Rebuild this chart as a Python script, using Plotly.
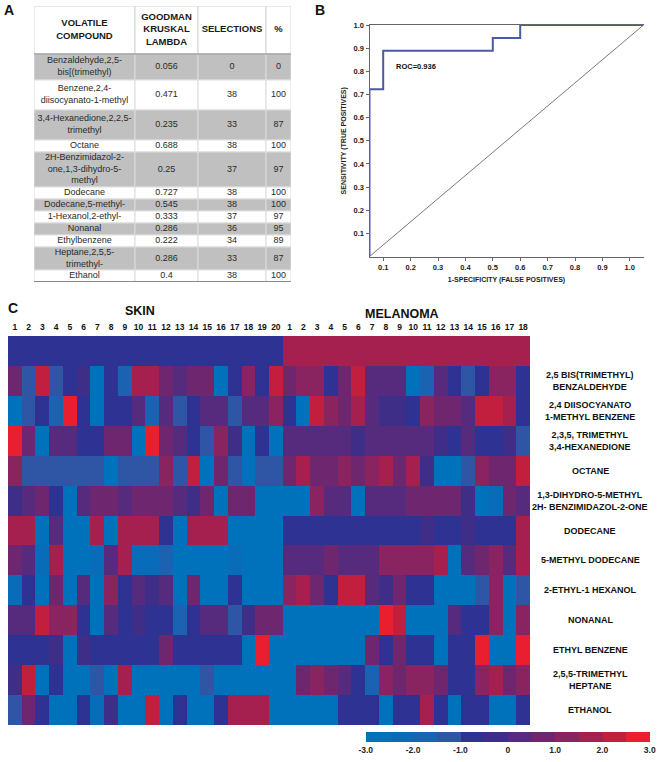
import plotly.graph_objects as go

FONT = "Liberation Sans, Arial, sans-serif"
W, H = 662, 762

# ---------------- Panel A : table ----------------
table_header = ["<b>VOLATILE<br>COMPOUND</b>", "<b>GOODMAN<br>KRUSKAL<br>LAMBDA</b>", "<b>SELECTIONS</b>", "<b>%</b>"]
compounds_table = [
    "Benzaldehyde,2,5-<br>bis[(trimethyl)",
    "Benzene,2,4-<br>diisocyanato-1-methyl",
    "3,4-Hexanedione,2,2,5-<br>trimethyl",
    "Octane",
    "2H-Benzimidazol-2-<br>one,1,3-dihydro-5-<br>methyl",
    "Dodecane",
    "Dodecane,5-methyl-",
    "1-Hexanol,2-ethyl-",
    "Nonanal",
    "Ethylbenzene",
    "Heptane,2,5,5-<br>trimethyl-",
    "Ethanol",
]
lambda_vals = ["0.056", "0.471", "0.235", "0.688", "0.25", "0.727", "0.545", "0.333", "0.286", "0.222", "0.286", "0.4"]
selections = [0, 38, 33, 38, 37, 38, 38, 37, 36, 34, 33, 38]
percents = [0, 100, 87, 100, 97, 100, 100, 97, 95, 89, 87, 100]

# table layout (pixels)
table_col_widths = [101, 63, 68, 25]
table_header_height = 48
table_row_heights = [26, 30, 30, 12, 35, 12, 12, 12, 12, 12, 23, 12]

# ---------------- Panel B : ROC ----------------
roc_fpr = [0.05, 0.05, 0.1, 0.5, 0.6, 1.05]
roc_tpr = [0.0, 0.722, 0.889, 0.944, 1.0, 1.0]
chance_x = [0.05, 1.05]
chance_y = [0.0, 1.0]
roc_ticks = [0.1, 0.2, 0.3, 0.4, 0.5, 0.6, 0.7, 0.8, 0.9, 1.0]
roc_text = "ROC=0.936"

# ---------------- Panel C : heatmap ----------------
skin_ids = [str(i) for i in range(1, 21)]
mel_ids = [str(i) for i in range(1, 19)]
skin_group_value = -0.8
mel_group_value = 1.7
row_labels = [
    "2,5 BIS(TRIMETHYL)<br>BENZALDEHYDE",
    "2,4 DIISOCYANATO<br>1-METHYL BENZENE",
    "2,3,5, TRIMETHYL<br>3,4-HEXANEDIONE",
    "OCTANE",
    "1,3-DIHYDRO-5-METHYL<br>2H- BENZIMIDAZOL-2-ONE",
    "DODECANE",
    "5-METHYL DODECANE",
    "2-ETHYL-1 HEXANOL",
    "NONANAL",
    "ETHYL BENZENE",
    "2,5,5-TRIMETHYL<br>HEPTANE",
    "ETHANOL",
]
# 20 skin samples followed by 18 melanoma samples
z_benzaldehyde = [0.8, -1.3, 2.1, -1.3, -0.7, -0.3, -2.8, -0.8, -1.8, 1.7, 1.7, 0.8, 0.2, 0.6, 0.6, -2.8, -0.8, 1.2, -0.9, 2.1,
                  0.8, 1.3, 1.3, -0.8, 0.6, 2.3, 0.3, 0.3, 0.2, -2.8, -1.8, 0.3, -0.8, -1.3, -0.8, 1.3, 1.3, -0.8]
z_diisocyanato = [-2.8, -1.3, -0.7, -1.8, 2.6, -0.6, -2.7, -0.6, -0.7, 0.2, -1.8, 0.2, -1.3, -0.9, 0.2, 0.2, -1.3, 0.3, 0.3, 1.3,
                  -0.9, -2.7, 2.3, 1.4, 0.7, 1.6, 0.3, -0.2, -0.4, -0.8, 1.1, 0.9, 0.9, 0.3, 2.1, 2.3, 1.6, -0.9]
z_hexanedione = [2.8, 0.8, -2.8, 0.2, 0.2, -0.9, -0.8, 0.7, 0.7, -2.7, 2.9, 0.7, 0.3, -0.9, -1.3, 1.4, -0.3, -2.7, -0.9, -2.7,
                 0.2, 0.2, 0.1, 0.2, 0.1, -0.4, 0.2, 0.3, 0.3, 0.2, 0.2, -0.3, -0.8, 0.2, -0.7, -0.8, -0.4, -1.3]
z_octane = [1.3, -1.3, -1.3, -1.3, -1.1, -1.3, -1.3, -2.6, -1.3, -1.3, -1.3, 1.4, -1.3, 2.4, -2.7, 0.8, -1.3, -2.7, -1.2, -1.2,
            0.9, 1.6, 0.8, 0.9, 1.1, 0.6, 1.3, 1.9, 0.7, 1.8, -0.2, -2.8, -2.8, -1.3, 1.4, 0.8, 0.8, 2.4]
z_benzimidazolone = [-0.2, 0.4, 0.8, -0.9, -2.7, 0.4, 0.6, 0.6, 0.3, 0.7, 0.7, 0.6, 0.3, -0.3, 0.8, -2.7, 0.9, 0.8, -2.8, -2.8,
                     -2.8, -2.8, 1.3, 0.4, 0.4, -2.7, 0.3, 0.3, 0.2, 0.7, 0.6, 0.7, 0.9, -0.1, -2.6, -2.3, 0.7, 0.3]
z_dodecane = [1.8, 1.8, -2.7, 0.2, -2.7, -2.7, 1.8, -2.7, 1.8, 1.8, 1.8, -0.9, -2.7, 1.8, 1.8, 1.8, -2.7, -2.7, -2.7, -2.7,
              -0.9, -0.9, -0.9, -0.9, -0.9, -0.9, -0.9, -0.9, -0.9, -0.9, -0.3, -0.9, -0.9, -0.3, -0.9, -0.9, -0.9, 1.6]
z_methyldodecane = [0.7, 0.4, -2.2, 1.7, -2.7, -2.7, -2.2, 0.3, 1.6, -2.4, -2.4, -1.9, -2.7, -2.7, -2.7, -2.7, -2.2, -2.7, -2.7, -2.7,
                    0.2, 0.4, 0.2, 0.6, 0.3, 0.4, 0.4, 1.2, 1.3, 1.2, 1.2, 1.6, -2.7, 0.4, 0.6, 1.4, 0.4, 1.7]
z_ethylhexanol = [-2.3, -0.9, -2.7, 0.8, -2.7, 0.2, -2.7, 1.3, -0.9, 0.2, -0.4, 0.2, -2.7, 0.7, -2.7, -2.7, -0.9, -2.7, -2.7, -2.7,
                  1.3, 1.7, 0.6, -0.9, 2.2, 2.2, 0.3, -0.4, 0.6, -0.7, -0.7, -2.7, -2.7, -2.7, -1.3, 1.2, -2.7, -1.3]
z_nonanal = [0.1, 0.4, 2.1, 1.4, 1.4, -0.8, -2.6, 0.1, -0.8, -0.4, -0.7, -0.7, -1.8, -0.9, 0.1, 0.4, -1.3, -0.2, 0.7, 0.6,
             -2.7, -2.7, -2.7, -2.7, -2.7, -2.7, -2.7, 2.7, 2.3, -2.7, -2.7, -2.7, 0.1, -0.9, -0.9, 1.3, -2.7, 1.2]
z_ethylbenzene = [-0.8, -0.8, -0.8, -0.4, -2.7, -0.4, -0.8, -0.6, -0.6, -0.6, -0.6, 0.8, -0.6, -0.6, -0.6, -0.6, -0.6, -2.7, 2.9, -2.7,
                  -2.7, -2.7, -2.7, -2.7, -2.7, -2.7, 0.7, -0.9, 0.6, -0.8, -0.8, -2.7, -0.6, -0.6, 2.9, -2.7, -2.7, 2.9]
z_heptane = [-0.3, 2.3, -2.7, -0.9, -2.7, -2.7, -1.3, -2.7, 1.6, -2.7, -2.7, -2.7, -2.7, -2.7, -1.3, -2.7, -2.7, -2.7, -2.7, -2.7,
             -2.7, 0.6, 1.1, 0.6, 0.4, -0.9, -1.8, 1.3, 0.7, 1.1, 1.1, 0.7, -0.9, -0.8, 1.1, 1.6, 0.8, 1.1]
z_ethanol = [-1.3, 0.7, -0.9, -2.7, -2.7, -0.8, -2.2, -0.4, -2.7, -2.7, 2.1, -2.7, -0.9, -2.7, -2.7, -0.9, 1.9, 1.9, 1.9, -2.7,
             -2.7, -2.7, -2.7, -2.7, -0.9, -0.9, -0.9, -2.7, -0.9, -0.9, 1.9, -0.9, -2.7, -0.9, -0.9, -2.7, -2.7, -0.9]

compound_rows = [z_benzaldehyde, z_diisocyanato, z_hexanedione, z_octane, z_benzimidazolone, z_dodecane,
                 z_methyldodecane, z_ethylhexanol, z_nonanal, z_ethylbenzene, z_heptane, z_ethanol]
group_row = [skin_group_value] * len(skin_ids) + [mel_group_value] * len(mel_ids)
z = [group_row] + compound_rows
col_ids = skin_ids + mel_ids
n_cols = len(col_ids)

cbar_ticks = [-3, -2, -1, 0, 1, 2, 3]
cbar_text = ["-3.0", "-2.0", "-1.0", "0", "1.0", "2.0", "3.0"]

step_colors = ["#0072bc", "#086cb8", "#1c62b2", "#2f55a5", "#2e3292", "#3e2e87",
               "#562a7c", "#6e266e", "#8a2460", "#a5204f", "#c21f3e", "#e91e2e"]
colorscale = []
for i, c in enumerate(step_colors):
    colorscale.append([i / len(step_colors), c])
    colorscale.append([(i + 1) / len(step_colors), c])


def px_x(p):
    return p / W


def px_y(p):
    return 1 - p / H


fig = go.Figure()

# ---- table built on its own axes (x3/y3, units = pixels) ----
n_rows = len(compounds_table)
col_lefts = [sum(table_col_widths[:i]) for i in range(len(table_col_widths))]
col_centers = [l + w / 2 for l, w in zip(col_lefts, table_col_widths)]
row_tops = [table_header_height + sum(table_row_heights[:i]) for i in range(n_rows)]
row_centers = [t + h / 2 for t, h in zip(row_tops, table_row_heights)]
table_w = sum(table_col_widths)
table_h = table_header_height + sum(table_row_heights)
row_fill = ["#c0c0c0" if i % 2 == 0 else "#ffffff" for i in range(n_rows)]
columns = [compounds_table, lambda_vals, selections, percents]

for j in range(len(table_col_widths)):
    fig.add_trace(go.Bar(orientation="h", y=[table_header_height / 2], x=[table_col_widths[j]], base=[col_lefts[j]],
                         width=[table_header_height], marker=dict(color="white", line=dict(color="#d4d4d4", width=1)),
                         xaxis="x3", yaxis="y3", showlegend=False, hoverinfo="skip"))
    fig.add_trace(go.Bar(orientation="h", y=row_centers, x=[table_col_widths[j]] * n_rows, base=[col_lefts[j]] * n_rows,
                         width=table_row_heights, marker=dict(color=row_fill, line=dict(color="#dcdcdc", width=1)),
                         xaxis="x3", yaxis="y3", showlegend=False, hoverinfo="skip"))
# rule lines under header and at table bottom
fig.add_trace(go.Scatter(x=[0, table_w], y=[table_header_height] * 2, mode="lines", line=dict(color="#8a8a8a", width=1),
                         xaxis="x3", yaxis="y3", showlegend=False, hoverinfo="skip"))
fig.add_trace(go.Scatter(x=[0, table_w], y=[table_h] * 2, mode="lines", line=dict(color="#6a6a6a", width=1.5),
                         xaxis="x3", yaxis="y3", showlegend=False, hoverinfo="skip"))
fig.add_trace(go.Scatter(x=col_centers, y=[table_header_height / 2] * 4, text=table_header, mode="text",
                         textposition="middle center", textfont=dict(family=FONT, size=9.5, color="#1a1a1a"),
                         xaxis="x3", yaxis="y3", showlegend=False, hoverinfo="skip"))
for j, col in enumerate(columns):
    fig.add_trace(go.Scatter(x=[col_centers[j]] * n_rows, y=row_centers, text=[str(v) for v in col], mode="text",
                             textposition="middle center", textfont=dict(family=FONT, size=9, color="#2a2a2a"),
                             xaxis="x3", yaxis="y3", showlegend=False, hoverinfo="skip"))

# ---- ROC ----
fig.add_trace(go.Scatter(x=chance_x, y=chance_y, mode="lines", line=dict(color="#555555", width=0.8),
                         xaxis="x", yaxis="y", showlegend=False, hoverinfo="skip"))
fig.add_trace(go.Scatter(x=roc_fpr, y=roc_tpr, mode="lines", line=dict(color="#4b5aa5", width=2, shape="hv"),
                         xaxis="x", yaxis="y", showlegend=False))

# ---- heatmap ----
fig.add_trace(go.Heatmap(
    z=z, x=list(range(n_cols)), y=list(range(len(z))),
    xaxis="x2", yaxis="y2", zmin=-3, zmax=3, colorscale=colorscale, showscale=True,
    colorbar=dict(orientation="h", x=0.767, xanchor="center", len=0.429, lenmode="fraction",
                  y=px_y(732), yanchor="top", thickness=10, outlinewidth=0, ticks="", xpad=0, ypad=0,
                  tickvals=cbar_ticks, ticktext=[f"<b>{t}</b>" for t in cbar_text],
                  tickfont=dict(family=FONT, size=8.5, color="#222")),
))


def ann(text, x, y, xref="paper", yref="paper", size=9, **kw):
    d = dict(text=text, x=x, y=y, xref=xref, yref=yref, showarrow=False, xanchor="center", yanchor="middle",
             font=dict(family=FONT, size=size, color="#111"))
    d.update(kw)
    return d


annotations = [
    ann("<b>A</b>", px_x(9), px_y(10), size=14),
    ann("<b>B</b>", px_x(320), px_y(10), size=14),
    ann("<b>C</b>", px_x(13), px_y(308), size=14),
    ann(f"<b>{roc_text}</b>", 0.14, 0.82, xref="x", yref="y", size=7.5, xanchor="left"),
    ann("<b>SKIN</b>", 9.1, px_y(311), xref="x2", size=12.5),
    ann("<b>MELANOMA</b>", 28.2, px_y(314), xref="x2", size=12.5),
]
for i, lab in enumerate(row_labels):
    annotations.append(ann(f"<b>{lab}</b>", px_x(590), i + 1, yref="y2", size=9, align="center"))

tickfont_roc = dict(family=FONT, size=7.5, color="#222")
fig.update_layout(
    width=W, height=H, margin=dict(l=0, r=0, t=0, b=0, autoexpand=False),
    paper_bgcolor="white", plot_bgcolor="white",
    font=dict(family=FONT), barmode="overlay",
    annotations=annotations,
    xaxis=dict(domain=[px_x(369.5), px_x(643.5)], range=[0.05, 1.05], tickvals=roc_ticks,
               ticktext=[f"<b>{t:.1f}</b>" for t in roc_ticks], tickfont=tickfont_roc,
               showgrid=False, zeroline=False, showline=True, linecolor="#666", linewidth=1, mirror=True,
               ticks="outside", ticklen=3, tickcolor="#666",
               title=dict(text="<b>1-SPECIFICITY (FALSE POSITIVES)</b>", font=dict(family=FONT, size=7, color="#222"),
                          standoff=6),
               anchor="y"),
    yaxis=dict(domain=[px_y(256.5), px_y(25)], range=[0, 1.0], tickvals=roc_ticks,
               ticktext=[f"<b>{t:.1f}</b>" for t in roc_ticks], tickfont=tickfont_roc,
               showgrid=False, zeroline=False, showline=True, linecolor="#666", linewidth=1,
               ticks="outside", ticklen=3, tickcolor="#666",
               title=dict(text="<b>SENSITIVITY (TRUE POSITIVES)</b>", font=dict(family=FONT, size=7, color="#222"),
                          standoff=6),
               anchor="x"),
    xaxis2=dict(domain=[px_x(8), px_x(530)], range=[-0.5, n_cols - 0.5], side="top",
                tickvals=list(range(n_cols)), ticktext=[f"<b>{c}</b>" for c in col_ids],
                tickfont=dict(family=FONT, size=8.5, color="#111"), tickangle=0,
                showgrid=False, zeroline=False, showline=False, ticks="outside", ticklen=2,
                tickcolor="rgba(0,0,0,0)", anchor="y2"),
    yaxis2=dict(domain=[px_y(725), px_y(336)], range=[len(z) - 0.5, -0.5], showticklabels=False,
                showgrid=False, zeroline=False, showline=False, ticks="", anchor="x2"),
    xaxis3=dict(domain=[px_x(34), px_x(34 + table_w)], range=[0, table_w], visible=False, fixedrange=True,
                anchor="y3"),
    yaxis3=dict(domain=[px_y(6 + table_h), px_y(6)], range=[table_h, 0], visible=False, fixedrange=True,
                anchor="x3"),
)

fig.write_html("out.html", config={"displayModeBar": False},
               post_script="document.body.style.margin='0px';")
